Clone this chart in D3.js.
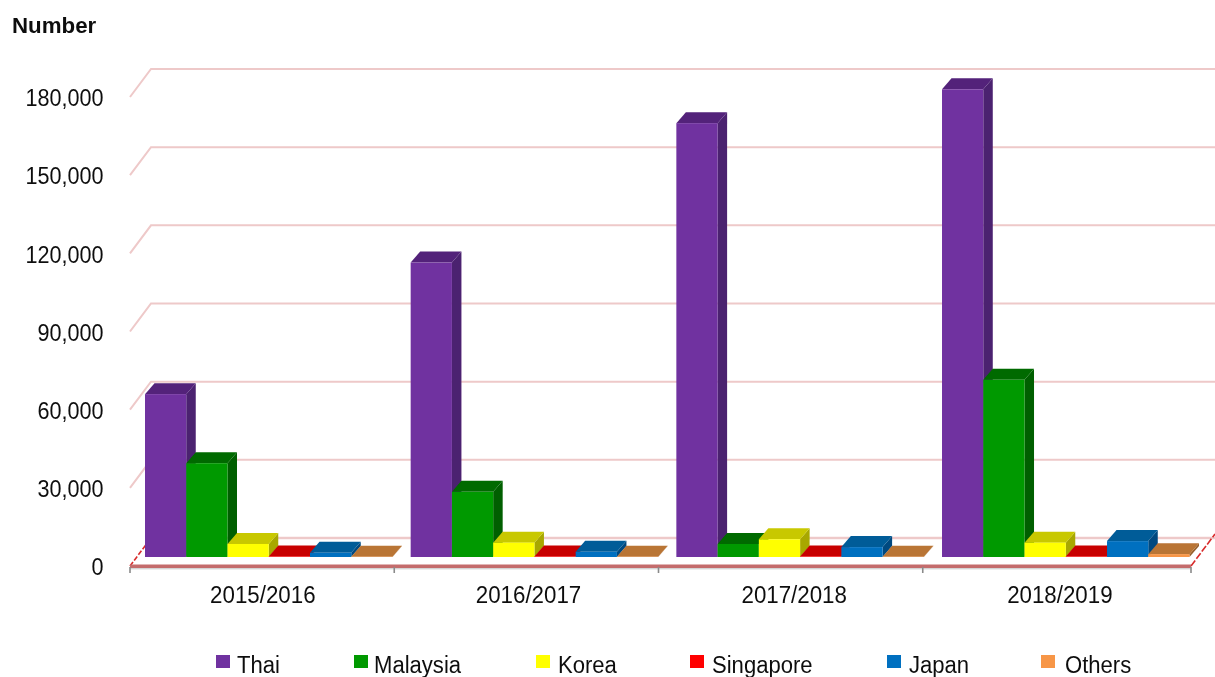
<!DOCTYPE html>
<html>
<head>
<meta charset="utf-8">
<script src="https://cdn.jsdelivr.net/npm/d3@7"></script>
<style>
  html, body { margin: 0; background: #fff; overflow: hidden; }
  text { font-family: "Liberation Sans", Arial, sans-serif; fill: #111; }
</style>
</head>
<body>
<svg id="chart" width="1215" height="677"></svg>
<script>
var years = ['2015/2016', '2016/2017', '2017/2018', '2018/2019'];
var seriesNames = ['Thai', 'Malaysia', 'Korea', 'Singapore', 'Japan', 'Others'];
var thai = [62500, 113000, 166500, 179500];
var malaysia = [36000, 25000, 5000, 68000];
var korea = [5000, 5500, 6800, 5500];
var singapore = [200, 200, 200, 200];
var japan = [1600, 2000, 3800, 6100];
var others = [100, 100, 100, 1100];
var yTicks = [0, 30000, 60000, 90000, 120000, 150000, 180000];
var seriesValues = [thai, malaysia, korea, singapore, japan, others];

var frontColors = ['#7030a0', '#009900', '#ffff00', '#ff0000', '#0070c0', '#f79646'];
var topColors = ['#53247a', '#006a00', '#c8c800', '#c80000', '#005b98', '#b97436'];
var sideColors = ['#4c2070', '#005f00', '#a8a800', '#a00000', '#004a80', '#96602c'];

var wallDx = 21, wallDy = -28;    // back wall offset from the front edge
var barInsetY = -9;               // bars stand a bit behind the front edge
var depthX = 9.5, depthY = -11;   // bar depth

var svg = d3.select('#chart');
var defs = svg.append('defs');
defs.append('filter').attr('id', 'soft')
  .attr('x', '-5%').attr('y', '-5%').attr('width', '110%').attr('height', '110%')
  .append('feGaussianBlur').attr('stdDeviation', 0.45);

// bars and labels run a little wider than the tick marks in the original
var x = d3.scaleBand().domain(years).range([130, 1192.7]);
var xTicks = d3.scaleBand().domain(years).range([130, 1187]);
var xSeries = d3.scaleBand().domain(seriesNames).range([15, 262.5]);
var y = d3.scaleLinear().domain([0, 180000]).range([566, 97]);
var axisEnd = 1191;

var root = svg.append('g').attr('filter', 'url(#soft)');

// Grid lines on the back wall + the slanted bit on the left
var grid = root.append('g');
grid.selectAll('path.grid')
  .data(yTicks.slice(1))
  .enter()
  .append('path')
  .attr('class', 'grid')
  .attr('fill', 'none')
  .attr('stroke', '#eec9c9')
  .attr('stroke-width', 2)
  .attr('d', function(d) {
    return 'M' + (x.range()[0]) + ',' + y(d) +
      'L' + (x.range()[0] + wallDx) + ',' + (y(d) + wallDy) +
      'L1215,' + (y(d) + wallDy);
  });

// Floor
grid.append('path')
  .attr('fill', 'none')
  .attr('stroke', '#eec9c9')
  .attr('stroke-width', 2.4)
  .attr('d', 'M' + (x.range()[0] + wallDx) + ',' + (y(0) + wallDy) + 'L1215,' + (y(0) + wallDy));
grid.append('path')
  .attr('fill', 'none')
  .attr('stroke', '#d82c2c')
  .attr('stroke-width', 1.6)
  .attr('stroke-dasharray', '5,2')
  .attr('d', 'M' + x.range()[0] + ',' + y(0) + 'l' + wallDx + ',' + wallDy);
grid.append('path')
  .attr('fill', 'none')
  .attr('stroke', '#d82c2c')
  .attr('stroke-width', 1.6)
  .attr('stroke-dasharray', '7,2')
  .attr('d', 'M' + axisEnd + ',' + y(0) + 'l' + (wallDx + 3) + ',' + (wallDy - 4));

// Bars, left to right so each one covers the side of the previous one
var bars = root.append('g');
years.forEach(function(year, i) {
  seriesNames.forEach(function(name, s) {
    var left = x(year) + xSeries(name);
    var right = left + xSeries.bandwidth();
    var base = y(0) + barInsetY;
    var top = y(seriesValues[s][i]) + barInsetY;
    var g = bars.append('g').attr('class', 'bar');

    g.append('path').attr('fill', sideColors[s])
      .attr('d', 'M' + right + ',' + top + 'l' + depthX + ',' + depthY +
        'L' + (right + depthX) + ',' + (base + depthY) + 'L' + right + ',' + base + 'Z');
    g.append('path').attr('fill', topColors[s])
      .attr('d', 'M' + left + ',' + top + 'l' + depthX + ',' + depthY +
        'L' + (right + depthX) + ',' + (top + depthY) + 'L' + right + ',' + top + 'Z');
    g.append('rect').attr('fill', frontColors[s])
      .attr('x', left)
      .attr('y', top)
      .attr('width', xSeries.bandwidth())
      .attr('height', base - top);
  });
});

// Axes
var xAxis = root.append('g')
  .attr('transform', 'translate(0,' + y(0) + ')')
  .call(d3.axisBottom(x).tickSize(0).tickPadding(20));
xAxis.select('.domain').remove();
xAxis.selectAll('text')
  .attr('font-size', 24)
  .attr('fill', '#111')
  .attr('font-family', '"Liberation Sans", Arial, sans-serif')
  .attr('transform', 'scale(0.93,1)');

root.append('rect')
  .attr('x', x.range()[0]).attr('y', y(0) - 1.5)
  .attr('width', axisEnd - x.range()[0]).attr('height', 3.5)
  .attr('fill', '#c46c6c');
root.append('rect')
  .attr('x', x.range()[0]).attr('y', y(0) + 2)
  .attr('width', axisEnd - x.range()[0]).attr('height', 1.4)
  .attr('fill', '#d4d4d4');

root.append('g').selectAll('line')
  .data(years.map(function(d) { return xTicks(d); }).concat([axisEnd]))
  .enter()
  .append('line')
  .attr('x1', function(d) { return d; })
  .attr('x2', function(d) { return d; })
  .attr('y1', y(0) + 1)
  .attr('y2', y(0) + 7)
  .attr('stroke', '#8a8a8a')
  .attr('stroke-width', 1.6);

var yAxis = root.append('g')
  .attr('transform', 'translate(103.5,1)')
  .call(d3.axisLeft(y).tickValues(yTicks).tickFormat(d3.format(',')).tickSize(0).tickPadding(0));
yAxis.select('.domain').remove();
yAxis.selectAll('text')
  .attr('font-size', 24)
  .attr('fill', '#111')
  .attr('font-family', '"Liberation Sans", Arial, sans-serif')
  .attr('transform', 'scale(0.9,1)');

root.append('text')
  .attr('x', 12).attr('y', 33)
  .attr('font-size', 22.3)
  .attr('font-weight', 'bold')
  .text('Number');

// Legend
var legendX = d3.scaleOrdinal().domain(seriesNames).range([216, 354, 536, 690, 887, 1041]);
var legendGap = d3.scaleOrdinal().domain(seriesNames).range([21, 20, 22, 22, 22, 24]);
var legend = root.append('g').selectAll('g')
  .data(seriesNames)
  .enter()
  .append('g')
  .attr('transform', function(d) { return 'translate(' + legendX(d) + ',655)'; });
legend.append('rect')
  .attr('width', 14).attr('height', 13)
  .attr('fill', function(d, i) { return frontColors[i]; });
legend.append('text')
  .attr('transform', function(d) { return 'translate(' + legendGap(d) + ',17.5) scale(0.96,1)'; })
  .attr('font-size', 23)
  .text(function(d) { return d; });
</script>
</body>
</html>
